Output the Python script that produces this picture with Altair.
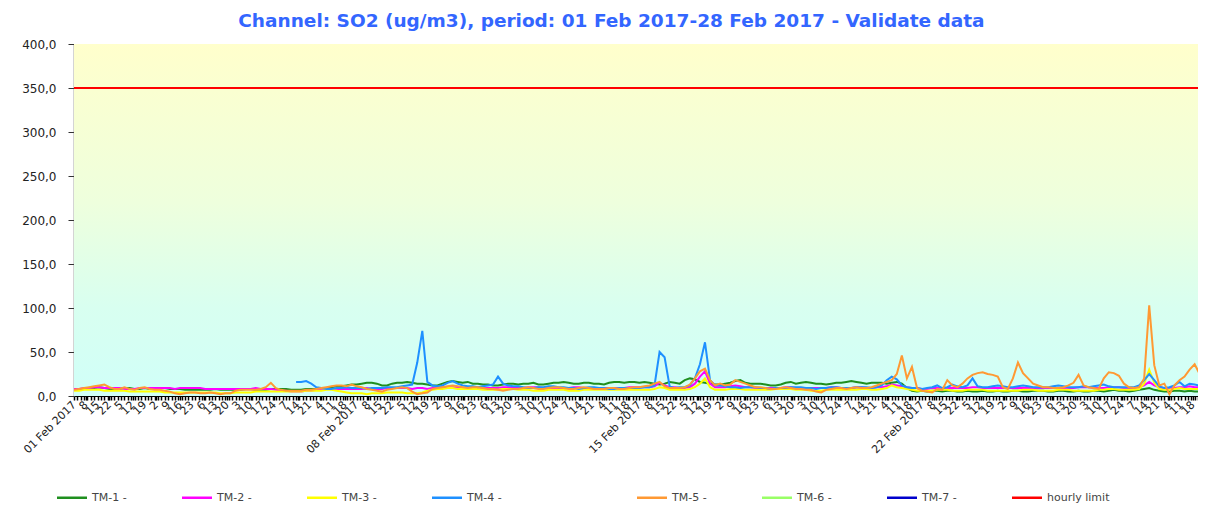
import json
import altair as alt
import pandas as pd

title_text = "Channel: SO2 (ug/m3), period: 01 Feb 2017-28 Feb 2017 - Validate data"

series_a = ["TM-1 -", "TM-2 -", "TM-3 -", "TM-4 -"]
colors_a = ["#1F8F1F", "#FF00FF", "#FFFF00", "#1E90FF"]
series_b = ["TM-5 -", "TM-6 -", "TM-7 -", "hourly limit"]
colors_b = ["#FF9933", "#99FF66", "#0000CC", "#FF0000"]
hourly_limit = 350
y_ticks = [0, 50, 100, 150, 200, 250, 300, 350, 400]

week_starts = ["01 Feb 2017", "08 Feb 2017", "15 Feb 2017", "22 Feb 2017"]
week_hour_labels = ["8", "15", "22", "5", "12", "19", "2", "9", "16", "23", "6", "13",
                    "20", "3", "10", "17", "24", "7", "14", "21", "4", "11", "18"]

# 3-hourly readings, one row per day (01..28 Feb)
tm1 = [
    7, 8, 8, 9, 9, 10, 9, 8,   8, 8, 9, 9, 8, 8, 9, 8,   9, 9, 9, 8, 8, 8, 7, 7,
    7, 7, 7, 7, 8, 7, 7, 7,    7, 7, 8, 8, 7, 7, 7, 8,   8, 8, 8, 7, 7, 7, 8, 8,
    8, 9, 9, 10, 11, 11, 12, 13,   13, 14, 15, 15, 14, 12, 12, 14,
    15, 15, 16, 15, 14, 14, 13, 12,   12, 14, 16, 17, 16, 15, 16, 14,
    14, 13, 13, 12, 12, 13, 14, 14,   13, 14, 14, 15, 13, 13, 14, 15,
    15, 16, 15, 14, 14, 15, 15, 14,   14, 13, 15, 16, 16, 15, 16, 16,
    15, 16, 15, 14, 13, 14, 16, 15,   14, 18, 20, 19, 16, 15, 14, 13,
    13, 14, 15, 17, 18, 15, 14, 14,   14, 13, 12, 12, 13, 15, 16, 14,
    15, 16, 15, 14, 14, 13, 14, 15,   15, 16, 17, 16, 15, 14, 15, 15,
    15, 14, 15, 16, 14, 9, 6, 5,   6, 5, 6, 6, 5, 6, 6, 5,
    5, 6, 5, 5, 6, 5, 5, 6,   5, 5, 6, 6, 5, 5, 6, 6,
    6, 5, 5, 6, 6, 5, 5, 6,   5, 5, 6, 6, 5, 6, 7, 6,
    6, 5, 6, 7, 8, 9, 7, 6,   5, 5, 6, 6, 5, 6, 5, 5,
]
tm2 = [
    8, 8, 9, 9, 10, 10, 9, 9,   9, 9, 8, 8, 8, 9, 9, 9,   9, 9, 9, 9, 8, 9, 9, 9,
    9, 9, 8, 8, 8, 8, 8, 8,   8, 8, 8, 8, 9, 8, 8, 8,   7, 6, 6, 5, 5, 5, 6, 6,
    7, 7, 8, 8, 8, 8, 8, 8,   8, 8, 9, 8, 8, 8, 9, 9,   9, 9, 9, 8, 9, 9, 8, 9,
    9, 10, 10, 10, 9, 9, 10, 10,   10, 9, 9, 9, 9, 10, 10, 9,   9, 9, 10, 10, 10, 9, 9, 9,
    9, 9, 9, 10, 10, 9, 9, 9,   9, 9, 9, 9, 9, 9, 10, 10,   10, 10, 10, 11, 15, 12, 10, 10,
    9, 9, 10, 14, 22, 28, 14, 10,   10, 10, 11, 12, 11, 10, 10, 9,   9, 9, 9, 9, 9, 10, 10, 9,
    9, 9, 9, 9, 9, 9, 10, 10,   9, 9, 9, 10, 10, 9, 9, 10,   10, 11, 13, 12, 11, 10, 9, 9,
    8, 8, 9, 9, 9, 9, 9, 9,   9, 9, 10, 10, 9, 9, 9, 9,   9, 9, 9, 9, 9, 9, 9, 9,
    9, 9, 9, 9, 9, 9, 9, 10,   10, 10, 9, 9, 9, 10, 10, 10,   9, 9, 9, 10, 12, 16, 12, 10,
    9, 9, 9, 10, 10, 11, 10, 10,
]
tm3 = [
    6, 6, 7, 7, 7, 7, 6, 6,   6, 6, 6, 5, 5, 5, 5, 5,   5, 5, 4, 4, 4, 4, 4, 4,
    4, 4, 4, 4, 4, 3, 3, 3,   4, 4, 4, 4, 5, 5, 5, 5,   5, 5, 5, 5, 5, 5, 6, 6,
    6, 6, 7, 7, 6, 5, 4, 3,   3, 3, 2, 3, 3, 3, 4, 4,   4, 4, 3, 3, 3, 4, 6, 7,
    8, 8, 9, 9, 8, 8, 8, 8,   8, 7, 7, 7, 7, 8, 8, 8,   7, 7, 7, 6, 6, 6, 7, 7,
    7, 7, 6, 6, 6, 7, 7, 7,   7, 7, 7, 7, 7, 7, 7, 7,   7, 7, 7, 8, 10, 9, 7, 7,
    7, 7, 8, 10, 14, 20, 10, 7,   7, 7, 8, 8, 8, 7, 7, 7,   7, 7, 7, 8, 8, 8, 8, 7,
    7, 7, 6, 6, 6, 7, 7, 7,   7, 7, 7, 7, 8, 8, 7, 7,   8, 9, 12, 10, 9, 8, 7, 6,
    6, 6, 6, 7, 7, 7, 6, 6,   6, 7, 7, 7, 7, 6, 6, 6,   6, 6, 6, 6, 7, 7, 7, 6,
    6, 6, 6, 7, 7, 7, 6, 6,   6, 6, 6, 7, 7, 8, 8, 7,   7, 7, 7, 8, 14, 30, 15, 8,
    7, 7, 8, 9, 8, 8, 8, 8,
]
tm4 = [
    None, None, None, None, None, None, None, None,
    None, None, None, None, None, None, None, None,
    None, None, None, None, None, None, None, None,
    None, None, None, None, None, None, None, None,
    None, None, None, None, None, None, None, None,
    None, None, None, None, 16, 16, 17, 14,
    10, 9, 8, 8, 9, 9, 10, 9,   9, 9, 8, 9, 9, 9, 10, 10,
    10, 11, 12, 13, 38, 74, 16, 12,   11, 12, 15, 17, 14, 12, 11, 11,
    10, 11, 12, 13, 22, 14, 12, 11,   11, 10, 9, 9, 10, 10, 11, 11,
    10, 10, 9, 9, 8, 9, 10, 10,   9, 9, 8, 8, 9, 9, 9, 9,
    9, 10, 10, 12, 50, 44, 11, 9,   10, 10, 12, 20, 36, 61, 18, 12,
    12, 11, 10, 10, 9, 10, 10, 10,   9, 9, 8, 9, 9, 9, 10, 10,
    10, 9, 9, 8, 9, 9, 10, 10,   9, 9, 9, 10, 10, 10, 9, 10,
    12, 18, 22, 19, 12, 10, 9, 9,   8, 9, 10, 12, 9, 10, 13, 11,
    10, 12, 20, 11, 10, 10, 11, 12,   11, 10, 10, 11, 12, 11, 10, 10,
    10, 10, 11, 12, 11, 10, 10, 10,   11, 10, 11, 12, 13, 11, 10, 10,
    10, 10, 10, 12, 18, 25, 18, 11,   9, 10, 12, 16, 11, 14, 13, 12,
]
tm5 = [
    7, 8, 9, 10, 11, 12, 13, 10,   8, 8, 10, 8, 7, 9, 10, 8,   7, 7, 6, 5, 3, 2, 3, 4,
    4, 3, 3, 4, 3, 2, 3, 3,   6, 7, 7, 7, 7, 8, 10, 15,   9, 7, 6, 6, 6, 6, 7, 7,
    8, 9, 10, 11, 12, 12, 11, 13,   11, 10, 8, 7, 6, 5, 7, 8,   9, 10, 9, 5, 2, 3, 4, 8,
    9, 10, 11, 12, 11, 10, 9, 10,   10, 9, 8, 8, 7, 6, 7, 8,   8, 9, 10, 9, 8, 8, 9, 10,
    10, 9, 8, 8, 9, 10, 9, 8,   8, 8, 9, 9, 8, 8, 9, 10,   10, 11, 12, 14, 16, 11, 9, 9,
    9, 10, 13, 20, 28, 31, 18, 12,   14, 12, 13, 18, 16, 14, 12, 10,   10, 9, 8, 8, 9, 10, 9, 8,
    8, 7, 7, 5, 4, 7, 8, 9,   9, 8, 9, 10, 9, 9, 10, 12,   14, 16, 18, 25, 46, 20, 33, 9,
    6, 5, 4, 8, 7, 18, 12, 10,   14, 20, 24, 26, 27, 25, 24, 22,   10, 8, 20, 38, 26, 20, 14, 12,
    10, 10, 9, 9, 10, 12, 15, 24,   12, 10, 9, 8, 20, 27, 26, 23,   14, 10, 9, 10, 20, 103, 35, 12,
    14, 2, 12, 18, 22, 30, 36, 25,
]
tm6 = []
tm7 = []

hours = [1 + 3 * i for i in range(224)]

def long_frame(names, arrays):
    rows = []
    for name, arr in zip(names, arrays):
        for h, v in zip(hours, arr):
            if v is not None:
                rows.append({"hour": h, "value": v, "series": name})
    return pd.DataFrame(rows, columns=["hour", "value", "series"])

df_a = long_frame(series_a, [tm1, tm2, tm3, tm4])
df_b = long_frame(series_b[:3], [tm5, tm6, tm7])
df_limit = pd.DataFrame({"series": [series_b[3]], "value": [hourly_limit]})

tick_labels = []
for ws in week_starts:
    tick_labels.append(ws)
    tick_labels.extend(week_hour_labels)
tick_hours = [1 + 7 * i for i in range(len(tick_labels))]
tick_values = sorted(set(range(1, 670, 2)) | set(tick_hours))

W, H = 1124, 352
x_domain = [1, 669]

label_expr = ("(datum.value - 1) % 7 == 0 ? " + json.dumps(tick_labels) +
              "[(datum.value - 1) / 7] : ''")

x_axis = alt.Axis(values=tick_values, labelExpr=label_expr, labelAngle=-45,
                  labelAlign="right", labelBaseline="middle", labelOverlap=False,
                  labelFlush=False, labelFont="DejaVu Sans", labelFontSize=11,
                  labelColor="#222", labelPadding=3, tickColor="black", tickSize=4,
                  tickWidth=1.5, domainColor="black", grid=False, title=None)
y_axis = alt.Axis(values=y_ticks,
                  labelExpr="replace(format(datum.value, '.1f'), '.', ',')",
                  labelFont="DejaVu Sans", labelFontSize=12, labelColor="#222",
                  labelPadding=12, tickSize=6, tickColor="#333", domainColor="#555",
                  domainWidth=1.5, grid=True,
                  gridColor=alt.condition("datum.value == 400", alt.value("#888888"), alt.value("black")),
                  gridWidth=1, title=None)

x_enc = alt.X("hour:Q", scale=alt.Scale(domain=x_domain, nice=False, zero=False), axis=x_axis)
y_enc = alt.Y("value:Q", scale=alt.Scale(domain=[0, 400], nice=False), axis=y_axis)

leg_common = dict(orient="none", direction="horizontal", title=None,
                  symbolType="M-1,0H11", symbolSize=25, symbolStrokeWidth=2.5,
                  labelOffset=27, columnPadding=50, labelFont="DejaVu Sans",
                  labelFontSize=11, labelColor="#444", padding=0, labelLimit=200,
                  legendY=448)
leg_a = alt.Legend(legendX=-20, **leg_common)
leg_b = alt.Legend(legendX=560, **leg_common)

bg = alt.Chart(pd.DataFrame({"k": [0]})).mark_rect(
    fill=alt.LinearGradient(
        gradient="linear",
        stops=[alt.GradientStop(color="#FFFFCC", offset=0),
               alt.GradientStop(color="#EEFFDD", offset=0.45),
               alt.GradientStop(color="#D8FFF0", offset=0.75),
               alt.GradientStop(color="#D0FFF8", offset=1)],
        x1=0, x2=0, y1=0, y2=1),
).encode(x=alt.value(0), x2=alt.value(W), y=alt.value(0), y2=alt.value(H))

lines_a = alt.Chart(df_a).mark_line(strokeWidth=2, clip=True).encode(
    x=x_enc, y=y_enc,
    color=alt.Color("series:N", scale=alt.Scale(domain=series_a, range=colors_a), legend=leg_a),
)
stroke_enc = alt.Stroke("series:N", scale=alt.Scale(domain=series_b, range=colors_b), legend=leg_b)
lines_b = alt.Chart(df_b).mark_line(strokeWidth=2, clip=True).encode(
    x=x_enc, y=y_enc, stroke=stroke_enc,
)
limit = alt.Chart(df_limit).mark_rule(strokeWidth=2).encode(y=y_enc, stroke=stroke_enc)

chart = alt.layer(bg, lines_a, lines_b, limit).properties(
    width=W, height=H,
    title=alt.TitleParams(title_text, font="DejaVu Sans", fontSize=18.5, fontWeight="bold",
                          color="#3366FF", anchor="middle", frame="bounds", offset=8),
    padding={"left": 66, "top": 36, "right": 0, "bottom": 110},
    autosize=alt.AutoSizeParams(type="none"),
).configure_view(stroke=None)

chart.save("out.html", embed_options={"renderer": "svg", "actions": False})
